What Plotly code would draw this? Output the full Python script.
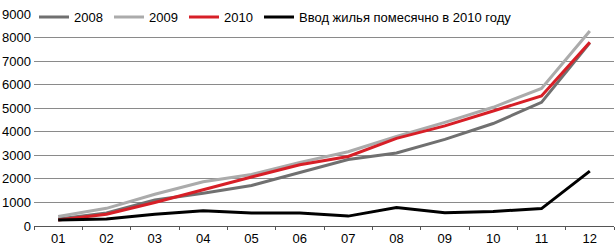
import plotly.graph_objects as go

months = ["01", "02", "03", "04", "05", "06", "07", "08", "09", "10", "11", "12"]
y2008 = [300, 550, 1100, 1390, 1720, 2280, 2820, 3100, 3680, 4350, 5250, 7780]
y2009 = [400, 750, 1350, 1880, 2190, 2700, 3150, 3800, 4400, 5040, 5840, 8280]
y2010 = [250, 500, 1000, 1550, 2080, 2600, 2950, 3720, 4250, 4880, 5520, 7800]
monthly2010 = [250, 300, 500, 650, 550, 550, 420, 780, 560, 620, 740, 2330]
names = ["2008", "2009", "2010", "Ввод жилья помесячно в 2010 году"]
colors = ["#707070", "#ababab", "#d71f27", "#000000"]
entry_widths = [30, 30, 30, None]

fig = go.Figure()
for name, ys, c, ew in zip(names, [y2008, y2009, y2010, monthly2010], colors, entry_widths):
    kw = {} if ew is None else {"legendwidth": ew}
    fig.add_trace(go.Scatter(x=months, y=ys, mode="lines", name=name,
                             line=dict(color=c, width=3), **kw))

fig.update_layout(
    width=616, height=244,
    margin=dict(l=34, r=2, t=6, b=18),
    paper_bgcolor="white", plot_bgcolor="white",
    font=dict(family="Liberation Sans, Arial, sans-serif", size=13, color="#000"),
    showlegend=True,
    legend=dict(orientation="h", x=0.0, y=1.056, xanchor="left", yanchor="top",
                bgcolor="rgba(0,0,0,0)", font=dict(size=13),
                tracegroupgap=0, itemwidth=30),
)
fig.update_xaxes(type="category", range=[-0.5, 11.5], showgrid=False,
                 showline=True, linecolor="#555", linewidth=1,
                 ticks="outside", tickson="boundaries", ticklen=3, tickcolor="#555",
                 automargin=False, tickfont=dict(size=13))
fig.update_yaxes(range=[0, 9000], dtick=1000, showgrid=True, gridcolor="#8a8a8a",
                 gridwidth=1, zeroline=False, showline=False, ticks="",
                 automargin=False, tickfont=dict(size=13), ticklabelstandoff=2)

fig.write_html(
    "out.html",
    config={"displayModeBar": False},
    post_script="document.body.style.margin='0';document.body.style.overflow='hidden';",
)
